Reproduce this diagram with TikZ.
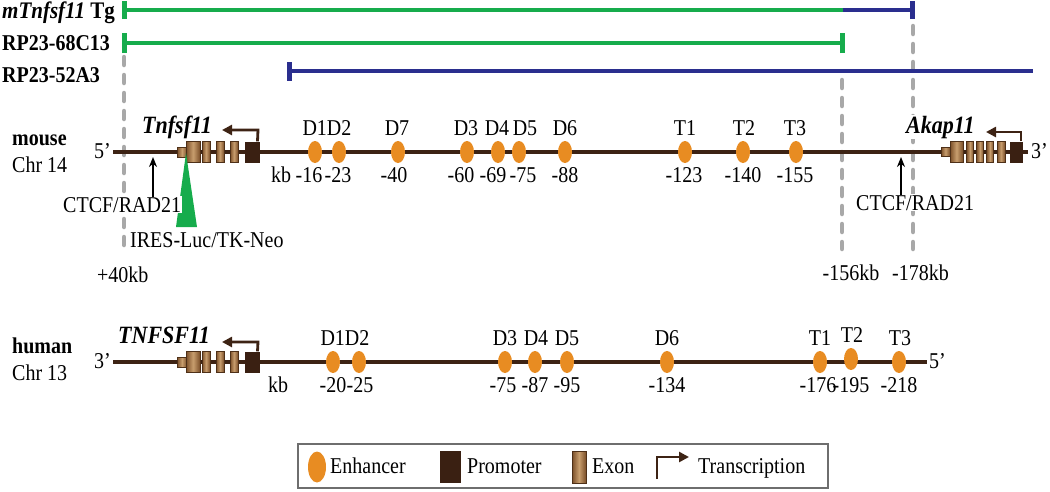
\documentclass[tikz,border=0pt]{standalone}
\usepackage{fontspec}
\usepackage{graphicx}
\setmainfont{Liberation Serif}
\usetikzlibrary{arrows.meta,shapes.geometric}
\definecolor{chrom}{HTML}{3D2314}
\definecolor{promo}{HTML}{3A2012}
\definecolor{exonD}{HTML}{7A4E28}
\definecolor{exonL}{HTML}{C89E6E}
\definecolor{exonE}{HTML}{4E3018}
\definecolor{enhC}{HTML}{E88C22}
\definecolor{grn}{HTML}{16AC4C}
\definecolor{blu}{HTML}{2A2E8E}
\definecolor{gry}{HTML}{A8A8A8}
\definecolor{boxg}{HTML}{6E6E6E}
\newcommand{\vst}[1]{\scalebox{1}[1.13]{#1}}
\newcommand{\genefont}{\fontsize{22}{26}\selectfont\bfseries\itshape}
\begin{document}
\begin{tikzpicture}[x=1pt,y=-1pt,
  font=\fontsize{20}{24}\selectfont,
  lbl/.style={inner sep=0pt,anchor=base},
  lblw/.style={inner sep=0pt,anchor=base west},
  blbl/.style={lblw,font=\fontsize{20}{24}\selectfont\bfseries},
  chromline/.style={draw=chrom,line width=4.5pt},
  enh/.style={ellipse,fill=enhC,inner sep=0pt,minimum width=14pt,minimum height=22pt},
  exonbox/.style={rectangle,draw=exonE,line width=0.5pt,left color=exonD,right color=exonD,middle color=exonL,inner sep=0pt,minimum height=21pt},
  utrbox/.style={exonbox,minimum height=10pt},
  promobox/.style={rectangle,fill=promo,inner sep=0pt,minimum height=21pt},
  txarrow/.style={draw=chrom,line width=2.8pt,-{Triangle[length=10pt,width=10pt]}},
  ctcfarrow/.style={draw=black,line width=1.8pt,-{Stealth[length=10pt,width=8pt]}},
  gline/.style={draw=grn,line width=4pt},
  bline/.style={draw=blu,line width=4pt},
  gdash/.style={draw=gry,line width=4.5pt,line cap=round,dash pattern=on 8pt off 10pt},
  wlbl/.style={lblw,fill=white,inner sep=1pt}
]
\useasboundingbox (0,0) rectangle (1050,491);

% ---------- BAC / transgene bars ----------
\node[lblw] (tgl) at (2,18) {\vst{\fontsize{21}{24}\selectfont\bfseries\itshape mTnfsf11\/\upshape\ Tg}};
\node[blbl] (rp68) at (2,50) {\vst{RP23-68C13}};
\node[blbl] (rp52) at (2,82) {\vst{RP23-52A3}};

\coordinate (tgA) at (124,10); \coordinate (tgB) at (843,10); \coordinate (tgC) at (912,10);
\coordinate (r6A) at (124,43); \coordinate (r6B) at (842,43);
\coordinate (r5A) at (289,71); \coordinate (r5B) at (1033,71);

% gray dashed guide lines
\coordinate (d1t) at (124,57); \coordinate (d1b) at (124,249);
\coordinate (d2t) at (842,80); \coordinate (d2b) at (842,249);
\coordinate (d3t) at (913,26); \coordinate (d3b) at (913,249);
\draw[gdash] (d1t) -- (d1b);
\draw[gdash] (d2t) -- (d2b);
\draw[gdash] (d3t) -- (d3b);

\draw[gline] (tgA) -- (tgB);
\draw[bline] (tgB) -- (tgC);
\draw[draw=grn,line width=5pt] ([yshift=-9pt]tgA) -- ([yshift=9pt]tgA);
\draw[draw=blu,line width=5pt] ([yshift=-9pt]tgC) -- ([yshift=9pt]tgC);
\draw[gline] (r6A) -- (r6B);
\draw[draw=grn,line width=5pt] ([yshift=-10pt]r6A) -- ([yshift=10pt]r6A);
\draw[draw=grn,line width=5pt] ([yshift=-10pt]r6B) -- ([yshift=10pt]r6B);
\draw[bline] (r5A) -- (r5B);
\draw[draw=blu,line width=5pt] ([yshift=-9.5pt]r5A) -- ([yshift=9.5pt]r5A);

% ---------- mouse ----------
\node[blbl] (mouse) at (12,145) {\vst{mouse}};
\node[lblw] (chr14) at (12,172) {\vst{Chr 14}};
\node[lbl,anchor=base east] (m5) at (111,158) {\vst{5’}};
\node[lblw] (m3) at (1031,158) {\vst{3’}};
\coordinate (mL) at (113,152); \coordinate (mR) at (1028,152);
\draw[chromline] (mL) -- (mR);

% Tnfsf11 gene
\node[utrbox,minimum width=10pt] (mu) at (182,152) {};
\node[exonbox,minimum width=14pt] (me1) at (193,152) {};
\node[exonbox,minimum width=8pt] (me2) at (206,152) {};
\node[exonbox,minimum width=8pt] (me3) at (220,152) {};
\node[exonbox,minimum width=8pt] (me4) at (234,152) {};
\node[promobox,minimum width=15pt] (mp) at (252.5,152) {};
\coordinate (mtx1) at (258,130); \coordinate (mtx2) at (222,130);
\draw[txarrow] ([xshift=5pt]mp.north) -- (mtx1) -- (mtx2);
\node[lblw] (tnf) at (142,133) {\vst{\genefont Tnfsf11}};

% insertion triangle
\coordinate (triA) at (186,153);
\coordinate (triB) at (176,227);
\coordinate (triC) at (197,227);
\fill[grn] (triA) -- (triB) -- (triC) -- cycle;
\node[lblw] (ires) at (130,247) {\vst{IRES-Luc/TK-Neo}};

% CTCF left
\node[wlbl] (ctcfL) at (62,212) {\vst{CTCF/RAD21}};
\coordinate (ctL) at (153,157);
\draw[ctcfarrow] ([yshift=-1pt]ctcfL.north -| ctL) -- (ctL);
\node[lblw] (p40) at (97,282) {\vst{+40kb}};

% Akap11 gene
\node[utrbox,minimum width=9pt,minimum height=9pt] (au) at (945.5,152) {};
\node[exonbox,minimum width=13pt] (ae1) at (956.5,152) {};
\node[exonbox,minimum width=7pt] (ae2) at (970,152) {};
\node[exonbox,minimum width=7pt] (ae3) at (980,152) {};
\node[exonbox,minimum width=7pt] (ae4) at (990,152) {};
\node[exonbox,minimum width=8pt] (ae5) at (1001,152) {};
\node[promobox,minimum width=13pt] (ap) at (1016.5,152) {};
\coordinate (atx1) at (1021,132); \coordinate (atx2) at (986,132);
\draw[txarrow] ([xshift=4.5pt]ap.north) -- (atx1) -- (atx2);
\node[wlbl] (akap) at (905,133) {\vst{\genefont Akap11}};

% CTCF right
\node[wlbl] (ctcfR) at (855,210) {\vst{CTCF/RAD21}};
\coordinate (ctR) at (901,157);
\draw[ctcfarrow] ([yshift=-1pt]ctcfR.north -| ctR) -- (ctR);
\node[lbl] (k156) at (851,280) {\vst{-156kb}};
\node[lblw] (k178) at (892,280) {\vst{-178kb}};

% mouse enhancers
\foreach \n/\x in {D1/315,D2/339,D7/398,D3/467,D4/498,D5/519,D6/565,T1/685,T2/743,T3/796}
  \node[enh] (m\n) at (\x,152) {};
\foreach \t/\x in {D1D2/327,D7/397,D3/466,D4/497,D5/525,D6/565,T1/685,T2/744,T3/795}
  \node[lbl] at (\x,135) {\vst{\t}};
\foreach \t/\x in {kb/281,-16/309,-23/338,-40/394,-60/461,-69/493,-75/523,-88/565,-123/684,-140/743,-155/795}
  \node[lbl] at (\x,182) {\vst{\t}};

% ---------- human ----------
\node[blbl] (human) at (12,353) {\vst{human}};
\node[lblw] (chr13) at (12,380) {\vst{Chr 13}};
\node[lbl,anchor=base east] (h3) at (111,368) {\vst{3’}};
\node[lblw] (h5) at (929,368) {\vst{5’}};
\coordinate (hL) at (113,362); \coordinate (hR) at (927,362);
\draw[chromline] (hL) -- (hR);

\node[utrbox,minimum width=10pt] (hu) at (182,362) {};
\node[exonbox,minimum width=14pt] (he1) at (193,362) {};
\node[exonbox,minimum width=8pt] (he2) at (206,362) {};
\node[exonbox,minimum width=8pt] (he3) at (220,362) {};
\node[exonbox,minimum width=8pt] (he4) at (234,362) {};
\node[promobox,minimum width=15pt] (hp) at (252.5,362) {};
\coordinate (htx1) at (258,342); \coordinate (htx2) at (222,342);
\draw[txarrow] ([xshift=5pt]hp.north) -- (htx1) -- (htx2);
\node[lblw] (TNF) at (118,343) {\vst{\genefont TNFSF11}};

\foreach \n/\x/\y in {D1/333/362,D2/359/362,D3/505/362,D4/535/362,D5/567/362,D6/667/362,T1/820/362,T2/851/359,T3/899/362}
  \node[enh] (h\n) at (\x,\y) {};
\foreach \t/\x/\y in {D1D2/345/345,D3/505/345,D4/536/345,D5/567/345,D6/667/345,T1/820/345,T2/852/342,T3/900/345}
  \node[lbl] at (\x,\y) {\vst{\t}};
\foreach \t/\x in {kb/278,-20/333,-25/360,-75/503,-87/535,-95/567,-134/667,-176/818,-195/851,-218/899}
  \node[lbl] at (\x,392) {\vst{\t}};

% ---------- legend ----------
\node[draw=boxg,line width=1.5pt,inner sep=0pt,minimum width=530pt,minimum height=44pt] (legend) at (563,466) {};
\node[enh,minimum width=18pt,minimum height=31pt] (lgE) at (317,467) {};
\node[lblw] (lgEt) at (330,473) {\vst{Enhancer}};
\node[promobox,minimum width=21pt,minimum height=32pt] (lgP) at (450.5,467) {};
\node[lblw] (lgPt) at (467,473) {\vst{Promoter}};
\node[exonbox,minimum width=14pt,minimum height=32pt] (lgX) at (579,467) {};
\node[lblw] (lgXt) at (592,473) {\vst{Exon}};
\coordinate (lgT0) at (657,479); \coordinate (lgT1) at (657,457); \coordinate (lgT2) at (689,457);
\draw[txarrow] (lgT0) -- (lgT1) -- (lgT2);
\node[lblw] (lgTt) at (698,473) {\vst{Transcription}};
\end{tikzpicture}
\end{document}
